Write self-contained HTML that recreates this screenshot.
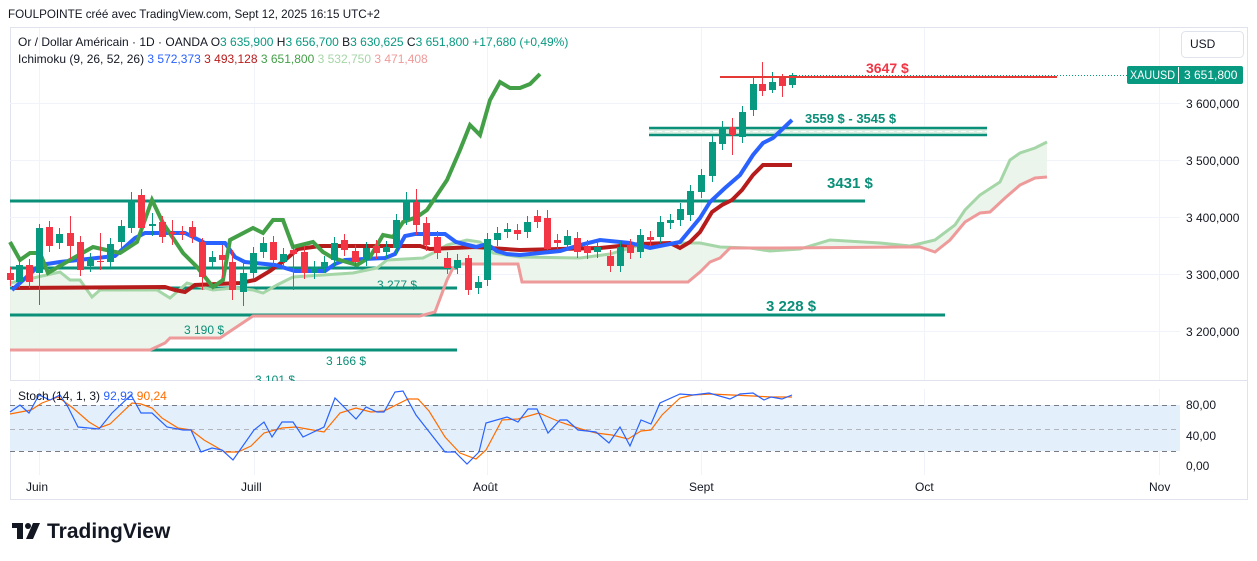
<!DOCTYPE html>
<html><head><meta charset="utf-8">
<style>
html,body{margin:0;padding:0;background:#fff;width:1257px;height:561px;overflow:hidden;font-family:"Liberation Sans",sans-serif;}
svg{position:absolute;left:0;top:0}
</style></head>
<body>
<svg id="s" width="1257" height="561" xmlns="http://www.w3.org/2000/svg" font-family="Liberation Sans, sans-serif">
<text x="8" y="18" font-size="12" fill="#131722" textLength="372" lengthAdjust="spacingAndGlyphs">FOULPOINTE créé avec TradingView.com, Sept 12, 2025 16:15 UTC+2</text>
<rect x="10.5" y="27.5" width="1237" height="472" fill="none" stroke="#e0e3eb"/>
<g stroke="#f0f3fa" stroke-width="1">
<line x1="10" y1="103.5" x2="1180" y2="103.5"/><line x1="10" y1="160.5" x2="1180" y2="160.5"/>
<line x1="10" y1="217.5" x2="1180" y2="217.5"/><line x1="10" y1="274.5" x2="1180" y2="274.5"/>
<line x1="10" y1="331.5" x2="1180" y2="331.5"/>
<line x1="39.5" y1="28" x2="39.5" y2="475"/><line x1="254.5" y1="28" x2="254.5" y2="475"/>
<line x1="487.5" y1="28" x2="487.5" y2="475"/><line x1="701.5" y1="28" x2="701.5" y2="475"/>
<line x1="924.5" y1="28" x2="924.5" y2="475"/><line x1="1159.5" y1="28" x2="1159.5" y2="475"/>
</g>
<line x1="10" y1="380.5" x2="1247" y2="380.5" stroke="#e0e3eb"/>
<g id="main"></g>
<rect x="10" y="405" width="1170" height="46" fill="#e3f0fb"/>
<g stroke="#787b86" stroke-dasharray="5,4" stroke-width="1">
<line x1="10" y1="405.5" x2="1180" y2="405.5"/><line x1="10" y1="451.5" x2="1180" y2="451.5"/>
</g>
<line x1="10" y1="429.5" x2="1180" y2="429.5" stroke="#b2b5be" stroke-dasharray="5,4"/>
<g id="stoch"></g>
<text x="18" y="400" font-size="12" fill="#131722">Stoch (14, 1, 3) <tspan fill="#2962ff">92,92</tspan> <tspan fill="#ff6d00">90,24</tspan></text>
<text x="18" y="46" font-size="12" fill="#131722">Or / Dollar Américain · 1D · OANDA  O<tspan fill="#089981">3 635,900</tspan>  H<tspan fill="#089981">3 656,700</tspan>  B<tspan fill="#089981">3 630,625</tspan>  C<tspan fill="#089981">3 651,800  +17,680 (+0,49%)</tspan></text>
<text x="18" y="63" font-size="12" fill="#131722">Ichimoku (9, 26, 52, 26)  <tspan fill="#2962ff">3 572,373</tspan>  <tspan fill="#b71c1c">3 493,128</tspan>  <tspan fill="#43a047">3 651,800</tspan>  <tspan fill="#a5d6a7">3 532,750</tspan>  <tspan fill="#ef9a9a">3 471,408</tspan></text>
<g font-size="12" fill="#131722">
<text x="1186" y="108">3 600,000</text><text x="1186" y="165">3 500,000</text>
<text x="1186" y="222">3 400,000</text><text x="1186" y="279">3 300,000</text>
<text x="1186" y="336">3 200,000</text>
<text x="1186" y="409">80,00</text><text x="1186" y="440">40,00</text><text x="1186" y="470">0,00</text>
<text x="26" y="491">Juin</text><text x="241" y="491">Juill</text><text x="473" y="491">Août</text>
<text x="689" y="491">Sept</text><text x="915" y="491">Oct</text><text x="1149" y="491">Nov</text>
</g>
<rect x="1181.5" y="31.5" width="62" height="26" rx="4" fill="#fff" stroke="#e0e3eb"/>
<text x="1190" y="48" font-size="12" fill="#131722">USD</text>
<rect x="1127" y="66" width="116" height="18" rx="2" fill="#089981"/>
<line x1="1178.5" y1="67" x2="1178.5" y2="83" stroke="#fff"/>
<text x="1130" y="79" font-size="11.5" fill="#fff" textLength="45" lengthAdjust="spacingAndGlyphs">XAUUSD</text>
<text x="1184" y="79" font-size="12" fill="#fff">3 651,800</text>
<g fill="#131722">
<rect x="12" y="523" width="11" height="5"/><rect x="17" y="523" width="6" height="16"/>
<circle cx="28" cy="526" r="3"/><polygon points="33,523 40,523 33,539 26,539"/>
</g>
<text x="47" y="538" font-size="21" font-weight="bold" fill="#131722">TradingView</text>
</svg>
<script>
var NS="http://www.w3.org/2000/svg";
function el(p,t,a){var e=document.createElementNS(NS,t);for(var k in a)e.setAttribute(k,a[k]);p.appendChild(e);return e;}
var m=document.getElementById('main'),st=document.getElementById('stoch');
function pts(a){return a.map(function(p){return p[0]+','+p[1]}).join(' ');}
var A=[[10,283],[33,278],[60,272],[70,280],[80,280],[92,297],[100,290],[117,290],[157,290],[170,298],[187,283],[213,290],[233,288],[253,290],[263,293],[277,285],[293,277],[353,273],[377,268],[387,260],[423,258],[433,253],[447,245],[467,240],[480,242],[493,253],[520,257],[580,258],[610,254],[640,245],[660,243],[700,243],[720,247],[750,248],[770,251],[800,249],[830,240],[880,243],[910,246],[935,240],[955,225],[965,210],[980,195],[1000,182],[1010,160],[1020,153],[1035,148],[1047,142]];
var B=[[10,350],[150,350],[165,343],[170,338],[220,338],[235,328],[253,316],[420,316],[435,312],[447,280],[453,268],[460,264],[518,264],[522,282],[688,282],[700,272],[710,262],[720,258],[730,248],[780,248],[900,247],[920,247],[935,252],[950,240],[965,222],[980,213],[990,212],[1005,198],[1020,185],[1035,178],[1047,177]];
el(m,'polygon',{points:pts(A.concat(B.slice().reverse())),fill:'#e8f3e8','fill-opacity':'0.85'});
function hl(x1,x2,y,w){el(m,'line',{x1:x1,x2:x2,y1:y,y2:y,stroke:'#0a8f79','stroke-width':w||3});}
el(m,'rect',{x:649,y:128,width:338,height:7,fill:'#dcefe2'});
el(m,'line',{x1:649,x2:987,y1:131.5,y2:131.5,stroke:'#fff','stroke-dasharray':'5,3'});
hl(649,987,128,2.5);hl(649,987,135,2.5);
hl(10,865,201);hl(10,457,268);hl(10,457,288);hl(10,945,315);hl(10,457,350);
el(m,'polyline',{points:pts(A),fill:'none',stroke:'#a5d6a7','stroke-width':3});
el(m,'polyline',{points:pts(B),fill:'none',stroke:'#ef9a9a','stroke-width':3});
var K=[[12,288],[165,287],[175,290],[185,292],[195,285],[240,283],[255,280],[270,271],[285,260],[298,249],[320,246],[420,246],[430,249],[475,247],[520,250],[560,249],[600,248],[640,244],[670,243],[680,248],[690,242],[700,232],[712,212],[722,205],[732,200],[742,190],[753,175],[763,165],[792,165]];
var T=[[12,290],[40,265],[60,262],[115,256],[125,247],[135,238],[145,233],[185,233],[195,238],[205,243],[225,243],[235,257],[245,262],[275,265],[295,271],[325,271],[335,264],[345,260],[385,258],[395,254],[405,236],[415,234],[445,234],[456,242],[476,247],[487,244],[497,251],[507,254],[520,255],[560,251],[580,245],[600,240],[630,243],[650,248],[680,242],[700,218],[710,202],[725,188],[740,175],[753,155],[763,143],[773,138],[792,120]];
var C=[[10,242],[20,260],[30,253],[40,253],[48,273],[70,260],[93,247],[120,253],[137,242],[152,200],[163,223],[183,253],[197,267],[213,287],[223,280],[230,240],[253,228],[263,233],[273,220],[283,220],[293,247],[313,242],[323,252],[333,258],[357,265],[370,257],[383,235],[393,237],[403,222],[417,217],[427,210],[447,180],[460,150],[470,125],[480,135],[490,100],[500,82],[510,88],[520,88],[530,84],[540,74]];
el(m,'polyline',{points:pts(K),fill:'none',stroke:'#b71c1c','stroke-width':4});
el(m,'polyline',{points:pts(T),fill:'none',stroke:'#2962ff','stroke-width':4});
el(m,'polyline',{points:pts(C),fill:'none',stroke:'#43a047','stroke-width':4});
var cd=[[10,273,280,0],[19,265,282,1],[29,265,282,0],[39,228,273,1,224,305],[49,227,246,0],[59,234,243,1],[70,233,246,0,216,259],[80,242,270,0],[90,259,266,1],[100,261,262,0,233,270],[110,244,262,1],[121,226,242,1],[131,201,228,1,192,233],[141,195,228,0,189,235],[152,224,226,1,213,236],[162,222,237,0],[172,232,234,0,220,245],[182,232,234,0],[192,227,237,0],[202,242,277,0,238,290],[212,257,262,1],[222,255,260,0,245,278],[232,262,290,0,250,300],[243,273,292,1,260,306],[253,253,273,1],[263,243,252,1],[273,242,260,0],[283,254,262,1],[293,250,254,0,245,290],[304,252,273,0],[314,267,273,1],[324,262,267,1],[334,243,260,1],[344,240,250,0],[355,251,262,0],[366,248,260,1],[376,246,253,0],[386,247,252,1],[396,220,248,1],[406,200,220,1,192,225],[416,202,225,0,189,235],[426,223,245,0],[437,237,253,0],[447,258,268,0],[457,260,268,1],[468,258,290,0,255,295],[478,282,288,1],[487,239,280,1],[497,233,240,1],[507,229,232,1],[517,230,234,0],[527,222,232,1],[537,216,222,0],[547,218,249,0,210,250],[557,240,243,0],[567,236,245,1],[577,238,252,0],[587,246,253,0],[597,247,252,1],[610,256,266,0],[620,247,266,1],[630,245,253,0],[640,235,252,1],[650,237,240,0],[660,222,237,1],[670,220,223,1],[680,209,220,1],[690,191,215,1],[701,175,192,1],[712,142,176,1],[722,127,144,1],[732,127,135,0,118,155],[742,112,137,1],[753,84,110,1],[762,84,91,0,62,96],[772,82,90,1,72,93],[782,78,86,0,74,97],[792,75,85,1,73,88]];
cd.forEach(function(c){var col=c[3]?'#089981':'#f23645';var h=c[4]||c[1]-6,l=c[5]||c[2]+6;
el(m,'line',{x1:c[0]+.5,x2:c[0]+.5,y1:h,y2:l,stroke:col,'stroke-width':1});
el(m,'rect',{x:c[0]-3,y:c[1],width:7,height:Math.max(1,c[2]-c[1]),fill:col});});
el(m,'line',{x1:720,x2:1057,y1:77,y2:77,stroke:'#e53935','stroke-width':2});
el(m,'line',{x1:790,x2:1127,y1:75.5,y2:75.5,stroke:'#089981','stroke-dasharray':'1,2'});
function tx(x,y,s,t,c,w){var e=el(m,'text',{x:x,y:y,'font-size':s,fill:c||'#0a8f79','font-weight':w||'bold'});e.textContent=t;}
tx(866,73,14,'3647 $','#f23645');tx(805,123,13,'3559 $ - 3545 $');tx(827,188,15,'3431 $');
tx(766,311,15,'3 228 $');tx(184,334,12,'3 190 $','#0a8f79','normal');tx(326,365,12,'3 166 $','#0a8f79','normal');
tx(377,289,12,'3 277 $','#0a8f79','normal');tx(255,384,12,'3 101 $','#0a8f79','normal');
el(m,'rect',{x:0,y:381,width:1180,height:8,fill:'#fff'});
var SB=[[10,412],[20,405],[29,413],[39,395],[50,400],[60,395],[68,407],[78,427],[99,429],[112,413],[131,395],[141,413],[152,413],[167,427],[183,430],[191,430],[201,452],[212,448],[222,450],[233,460],[254,430],[264,422],[272,437],[282,422],[293,422],[303,437],[324,427],[335,398],[356,419],[366,407],[377,412],[384,412],[395,392],[403,391],[416,415],[434,438],[445,452],[455,452],[467,464],[479,452],[486,423],[507,417],[518,422],[528,409],[537,409],[548,433],[560,420],[567,420],[578,430],[596,432],[609,443],[620,427],[630,446],[641,420],[651,424],[660,403],[680,394],[693,395],[709,393],[730,399],[740,394],[753,393],[764,400],[771,397],[782,399],[792,395]];
var SO=[[10,414],[31,410],[42,403],[58,397],[73,408],[89,422],[99,428],[110,424],[132,403],[141,404],[152,408],[162,418],[178,428],[191,430],[204,440],[225,452],[238,452],[251,446],[264,433],[282,428],[296,427],[324,432],[340,413],[356,408],[371,412],[384,411],[408,399],[418,399],[429,411],[445,437],[460,453],[476,459],[486,450],[502,420],[518,419],[539,413],[560,422],[581,429],[596,433],[612,435],[628,439],[641,431],[651,430],[662,415],[680,398],[693,395],[711,394],[732,395],[753,396],[771,397],[792,397]];
el(st,'polyline',{points:pts(SO),fill:'none',stroke:'#ff6d00','stroke-width':1.2});
el(st,'polyline',{points:pts(SB),fill:'none',stroke:'#2962ff','stroke-width':1.2});
</script>
</body></html>
